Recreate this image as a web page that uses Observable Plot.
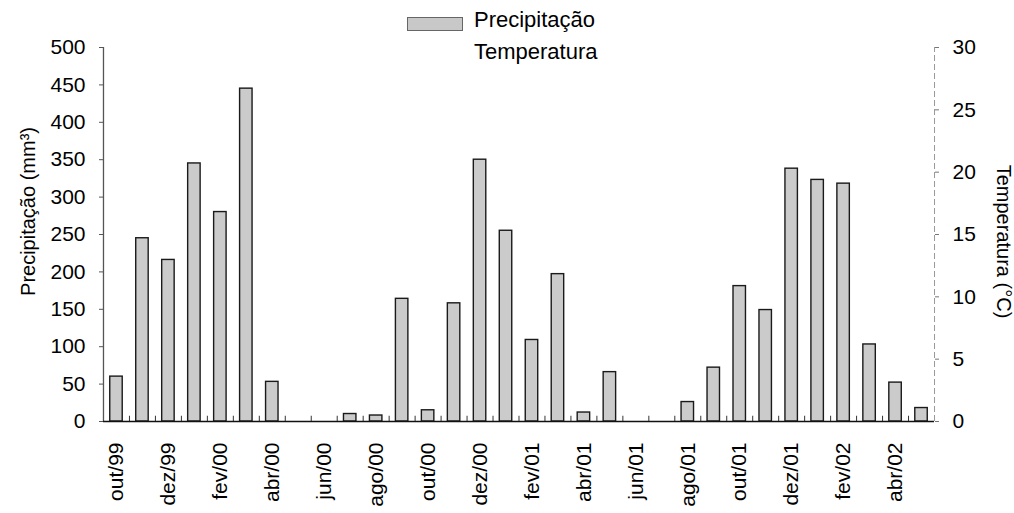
<!DOCTYPE html>
<html>
<head>
<meta charset="utf-8">
<script src="https://cdn.jsdelivr.net/npm/d3@7"></script>
<script src="https://cdn.jsdelivr.net/npm/@observablehq/plot@0.6"></script>
<style>
  body { margin: 0; background: #fff; }
  #wrap { position: relative; width: 1014px; height: 513px; font-family: "Liberation Sans", Arial, sans-serif; }
  #legend { position: absolute; left: 0; top: 0; width: 1014px; height: 0; }
  .lg { position: absolute; font-size: 22px; color: #000; white-space: nowrap; line-height: 1; }
  .sw { position: absolute; width: 56px; height: 14px; background: #c8c8c8; border: 1px solid #666; box-sizing: border-box; }
</style>
</head>
<body>
<div id="wrap">
  <div id="chart"></div>
  <div id="legend">
    <div class="sw" style="left:407px; top:17px;"></div>
    <div class="lg" style="left:474px; top:9px;">Precipitação</div>
    <div class="lg" style="left:474px; top:41px;">Temperatura</div>
  </div>
</div>
<script>
const months = ["out/99","nov/99","dez/99","jan/00","fev/00","mar/00","abr/00","mai/00","jun/00","jul/00","ago/00","set/00",
  "out/00","nov/00","dez/00","jan/01","fev/01","mar/01","abr/01","mai/01","jun/01","jul/01","ago/01","set/01",
  "out/01","nov/01","dez/01","jan/02","fev/02","mar/02","abr/02","mai/02"];
const precipitation = [60,245,216,345,280,445,53,0,0,10,8,164,
  15,158,350,255,109,197,12,66,0,0,26,72,
  181,149,338,323,318,103,52,18];
const labeledMonths = months.filter((m, i) => i % 2 === 0);
const precipTicks = [0,50,100,150,200,250,300,350,400,450,500];
const tempTicks = [0,5,10,15,20,25,30];
const tempMax = 30, precipMax = 500;
const yLabelLeft = "Precipitação (mm³)";
const yLabelRight = "Temperatura (°C)";

const data = months.map((m, i) => ({month: m, p: precipitation[i]}));

const chart = Plot.plot({
  width: 1014,
  height: 513,
  marginLeft: 103,
  marginRight: 80,
  marginTop: 47,
  marginBottom: 92,
  style: {fontFamily: "'Liberation Sans', Arial, sans-serif", fontSize: "21px", color: "#000", background: "#fff"},
  x: {type: "band", domain: months, paddingInner: 0.52, paddingOuter: 0.26, label: null},
  y: {domain: [0, precipMax], label: null},
  marks: [
    Plot.barY(data, {x: "month", y: "p", fill: "#cbcbcb", stroke: "#1a1a1a", strokeWidth: 1.4}),
    Plot.ruleX(months.slice(1), {x: d => d, y1: 0, y2: 7, dx: -13, stroke: "#333", strokeWidth: 1}),
    Plot.ruleX([months[0]], {x: d => d, y1: 0, y2: precipMax, dx: -13, stroke: "#555", strokeWidth: 1.3}),
    Plot.ruleY([0], {stroke: "#111", strokeWidth: 1.3}),
    Plot.ruleX([months[months.length - 1]], {x: d => d, y1: 0, y2: precipMax, dx: 13, stroke: "#999", strokeWidth: 1, strokeDasharray: "6,3"}),
    Plot.axisY({anchor: "left", ticks: precipTicks, tickSize: 4, tickPadding: 14, stroke: "#555", label: null}),
    Plot.axisY({anchor: "right", ticks: tempTicks.map(t => t * precipMax / tempMax), tickSize: 4, tickPadding: 14, stroke: "#777",
      tickFormat: d => String(Math.round(d * tempMax / precipMax)), label: null}),
    Plot.axisX({anchor: "bottom", ticks: labeledMonths, tickSize: 0, tickPadding: 21, tickRotate: -90, label: null}),
    Plot.text([yLabelLeft], {text: d => d, frameAnchor: "left", textAnchor: "middle", rotate: -90, dx: -75, dy: -23, fontSize: 20, fill: "#000"}),
    Plot.text([yLabelRight], {text: d => d, frameAnchor: "right", textAnchor: "middle", rotate: 90, dx: 69, dy: 7, fontSize: 20, fill: "#000"})
  ]
});
document.getElementById("chart").appendChild(chart);
</script>
</body>
</html>
